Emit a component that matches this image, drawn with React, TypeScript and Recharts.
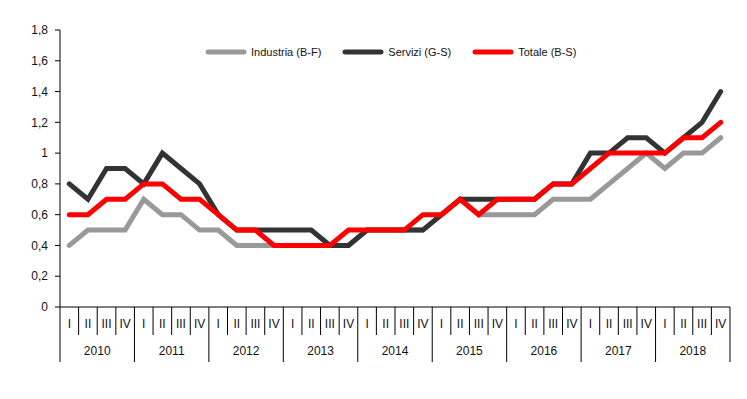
import React from 'react';
import { LineChart, Line, XAxis, YAxis, Legend } from 'recharts';

const YEARS = ['2010', '2011', '2012', '2013', '2014', '2015', '2016', '2017', '2018'];
const QUARTERS = ['I', 'II', 'III', 'IV'];

const INDUSTRIA = [
  0.4, 0.5, 0.5, 0.5,
  0.7, 0.6, 0.6, 0.5,
  0.5, 0.4, 0.4, 0.4,
  0.4, 0.4, 0.4, 0.4,
  0.5, 0.5, 0.5, 0.5,
  0.6, 0.7, 0.6, 0.6,
  0.6, 0.6, 0.7, 0.7,
  0.7, 0.8, 0.9, 1.0,
  0.9, 1.0, 1.0, 1.1,
];
const SERVIZI = [
  0.8, 0.7, 0.9, 0.9,
  0.8, 1.0, 0.9, 0.8,
  0.6, 0.5, 0.5, 0.5,
  0.5, 0.5, 0.4, 0.4,
  0.5, 0.5, 0.5, 0.5,
  0.6, 0.7, 0.7, 0.7,
  0.7, 0.7, 0.8, 0.8,
  1.0, 1.0, 1.1, 1.1,
  1.0, 1.1, 1.2, 1.4,
];
const TOTALE = [
  0.6, 0.6, 0.7, 0.7,
  0.8, 0.8, 0.7, 0.7,
  0.6, 0.5, 0.5, 0.4,
  0.4, 0.4, 0.4, 0.5,
  0.5, 0.5, 0.5, 0.6,
  0.6, 0.7, 0.6, 0.7,
  0.7, 0.7, 0.8, 0.8,
  0.9, 1.0, 1.0, 1.0,
  1.0, 1.1, 1.1, 1.2,
];
const Y_TICKS = [0, 0.2, 0.4, 0.6, 0.8, 1, 1.2, 1.4, 1.6, 1.8];

const SERIES = [
  { key: 'industria', name: 'Industria (B-F)', color: '#999999' },
  { key: 'servizi', name: 'Servizi (G-S)', color: '#333333' },
  { key: 'totale', name: 'Totale (B-S)', color: '#ff0000' },
];

const data = YEARS.flatMap((year, yi) =>
  QUARTERS.map((q, qi) => {
    const i = yi * 4 + qi;
    return {
      label: `${q} ${year}`,
      year,
      quarter: q,
      industria: INDUSTRIA[i],
      servizi: SERVIZI[i],
      totale: TOTALE[i],
    };
  })
);

const fmt = (v: number) => {
  const s = v.toFixed(1);
  return (s.endsWith('.0') ? s.slice(0, -2) : s).replace('.', ',');
};

const FONT = '"Liberation Sans", Arial, sans-serif';

const QuarterTick = (props: any) => {
  const { x, y, payload } = props;
  const i: number = payload?.index ?? props.index ?? 0;
  const half: number = payload?.offset || 9.3;
  const qi = i % 4;
  const row = data[i];
  return (
    <g>
      <text x={x} y={y + 21} textAnchor="middle" fontSize={12} fill="#111" fontFamily={FONT}>
        {row ? row.quarter : ''}
      </text>
      <line x1={x + half} x2={x + half} y1={y} y2={qi === 3 ? y + 55 : y + 28} stroke="#000" strokeWidth={1} />
      {i === 0 && <line x1={x - half} x2={x - half} y1={y} y2={y + 55} stroke="#000" strokeWidth={1} />}
      {qi === 1 && row && (
        <text x={x + half} y={y + 48} textAnchor="middle" fontSize={12} fill="#111" fontFamily={FONT}>
          {row.year}
        </text>
      )}
    </g>
  );
};

const LegendContent = () => (
  <div style={{ display: 'flex', alignItems: 'center', gap: 21, fontFamily: FONT, fontSize: 11, color: '#111' }}>
    {SERIES.map((s) => (
      <div key={s.key} style={{ display: 'flex', alignItems: 'center', gap: 4 }}>
        <svg width={42} height={6}>
          <line x1={3} x2={39} y1={3} y2={3} stroke={s.color} strokeWidth={5} strokeLinecap="round" />
        </svg>
        <span>{s.name}</span>
      </div>
    ))}
  </div>
);

export default function App() {
  return (
    <div style={{ position: 'absolute', left: 0, top: 0, width: 747, height: 399, background: '#fff' }}>
      <LineChart
        width={747}
        height={399}
        data={data}
        margin={{ top: 18, right: 17, bottom: 32, left: 8 }}
        style={{ fontFamily: FONT }}
      >
        <XAxis
          dataKey="label"
          scale="band"
          interval={0}
          tickLine={false}
          tickSize={0}
          tickMargin={0}
          height={60}
          axisLine={{ stroke: '#000', strokeWidth: 1 }}
          tick={<QuarterTick />}
        />
        <YAxis
          width={52}
          domain={[0, 1.8]}
          ticks={Y_TICKS}
          tickFormatter={fmt}
          tickSize={5}
          tickMargin={7}
          axisLine={{ stroke: '#000', strokeWidth: 1 }}
          tickLine={{ stroke: '#000', strokeWidth: 1 }}
          tick={{ fontSize: 12, fill: '#111', fontFamily: FONT }}
          interval={0}
        />
        <Legend
          verticalAlign="top"
          content={<LegendContent />}
          wrapperStyle={{ position: 'absolute', left: 205, top: 46, width: 'auto' }}
        />
        {SERIES.map((s) => (
          <Line
            key={s.key}
            type="linear"
            dataKey={s.key}
            name={s.name}
            stroke={s.color}
            strokeWidth={5}
            strokeLinecap="round"
            dot={false}
            activeDot={false}
            isAnimationActive={false}
          />
        ))}
      </LineChart>
    </div>
  );
}
